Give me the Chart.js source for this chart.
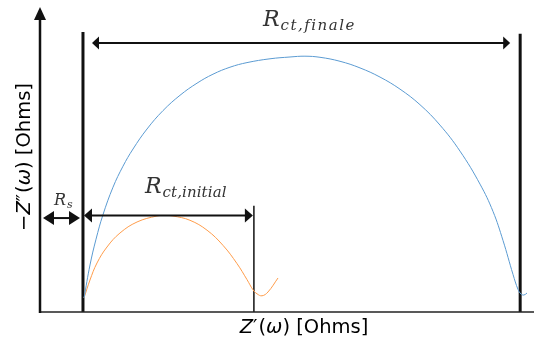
<!DOCTYPE html>
<html>
<head>
<meta charset="utf-8">
<script src="https://cdn.jsdelivr.net/npm/chart.js@4/dist/chart.umd.min.js"></script>
<style>
  html, body { margin: 0; padding: 0; background: #fff; overflow: hidden; }
  #wrap { width: 534px; height: 344px; position: relative; }
</style>
</head>
<body>
<div id="wrap"><canvas id="c" width="534" height="344"></canvas></div>
<script>
// Nyquist sketch of a cell before and after ageing (arbitrary ohm units).
// Final spectrum (large arc)
const finalZre = [8.91, 10.12, 11.34, 12.75, 14.78, 16.80, 18.83, 21.66, 24.90, 28.34, 31.78, 35.02, 38.46, 41.90, 46.56, 50.61, 53.64, 56.68, 60.73, 64.78, 68.83, 72.87, 76.92, 80.97, 85.02, 89.07, 91.70, 93.72, 95.75, 96.76, 97.37, 97.98, 98.58];
const finalZim = [4.59, 15.41, 23.87, 31.90, 40.92, 47.80, 53.44, 60.00, 66.03, 71.05, 75.02, 77.97, 80.26, 81.77, 83.02, 83.61, 83.87, 83.51, 82.20, 80.03, 77.02, 73.08, 67.97, 61.28, 52.75, 41.93, 32.98, 23.48, 12.33, 7.41, 5.90, 5.57, 6.23];
// Initial spectrum (small arc)
const initialZre = [8.91, 10.12, 11.54, 13.56, 16.19, 19.64, 23.68, 25.30, 26.92, 30.36, 33.81, 37.05, 39.88, 41.90, 43.12, 43.93, 44.94, 46.15, 48.18];
const initialZim = [4.59, 10.49, 16.07, 21.31, 25.90, 29.51, 31.48, 31.64, 31.48, 30.07, 26.82, 21.84, 15.87, 10.62, 7.28, 5.97, 5.31, 6.56, 11.15];
// Characteristic resistances read on the real axis
const resistanceLabels = ['R_s', 'R_ct,initial', 'R_ct,finale'];
const R_S = 8.7;
const R_END_INITIAL = 43.3;
const R_END_FINAL = 97.2;

const toPoints = (xs, ys) => xs.map((x, i) => ({ x, y: ys[i] }));
const vline = (x, top) => [{ x, y: 0 }, { x, y: top }];

const INK = '#111';

function arrowHead(ctx, tipX, tipY, dir, len, half) {
  // dir: +1 points right, -1 points left
  ctx.beginPath();
  ctx.moveTo(tipX, tipY);
  ctx.lineTo(tipX - dir * len, tipY - half);
  ctx.lineTo(tipX - dir * len, tipY + half);
  ctx.closePath();
  ctx.fill();
}

function dimArrow(ctx, x1, x2, y, len, half, width) {
  ctx.save();
  ctx.strokeStyle = INK;
  ctx.fillStyle = INK;
  ctx.lineWidth = width;
  ctx.beginPath();
  ctx.moveTo(x1 + len * 0.5, y);
  ctx.lineTo(x2 - len * 0.5, y);
  ctx.stroke();
  arrowHead(ctx, x1, y, -1, len, half);
  arrowHead(ctx, x2, y, 1, len, half);
  ctx.restore();
}

function mathLabel(ctx, base, sub, x, y, size, subSpacing) {
  // italic R with a smaller subscript, left-aligned at x, baseline y
  ctx.save();
  ctx.fillStyle = '#333';
  ctx.textBaseline = 'alphabetic';
  ctx.textAlign = 'left';
  ctx.font = 'italic ' + size + 'px "DejaVu Serif"';
  ctx.fillText(base, x, y);
  const w = ctx.measureText(base).width;
  ctx.font = 'italic ' + Math.round(size * 0.7) + 'px "DejaVu Serif"';
  ctx.letterSpacing = subSpacing + 'px';
  ctx.fillText(sub, x + w + 1, y + size * 0.2);
  ctx.restore();
}

// draw a run of text pieces (some italic) centred on (cx, cy)
function richText(ctx, parts, cx, cy, size, angle) {
  ctx.save();
  ctx.translate(cx, cy);
  ctx.rotate(angle);
  ctx.fillStyle = '#000';
  ctx.textBaseline = 'middle';
  ctx.textAlign = 'left';
  const fontOf = p => (p.i ? 'oblique ' : '') + size + 'px "DejaVu Sans"';
  let total = 0;
  const widths = parts.map(p => {
    ctx.font = fontOf(p);
    const w = ctx.measureText(p.t).width + (p.pad || 0);
    total += w;
    return w;
  });
  let x = -total / 2;
  parts.forEach((p, k) => {
    ctx.font = fontOf(p);
    ctx.fillText(p.t, x, 0);
    x += widths[k];
  });
  ctx.restore();
}

const sketchPlugin = {
  id: 'nyquistSketch',
  afterDatasetsDraw(chart) {
    const { ctx, chartArea, scales } = chart;
    const xs = scales.x, ys = scales.y;
    const x0 = xs.getPixelForValue(0);
    const y0 = ys.getPixelForValue(0);

    ctx.save();
    // real axis
    ctx.strokeStyle = '#222';
    ctx.lineWidth = 1.5;
    ctx.beginPath();
    ctx.moveTo(x0, y0);
    ctx.lineTo(chartArea.right, y0);
    ctx.stroke();
    // imaginary axis with arrow
    ctx.lineWidth = 2.5;
    ctx.strokeStyle = INK;
    ctx.beginPath();
    ctx.moveTo(x0, y0 + 1);
    ctx.lineTo(x0, chartArea.top + 10);
    ctx.stroke();
    ctx.fillStyle = INK;
    ctx.beginPath();
    ctx.moveTo(x0, chartArea.top);
    ctx.lineTo(x0 - 6, chartArea.top + 13);
    ctx.lineTo(x0 + 6, chartArea.top + 13);
    ctx.closePath();
    ctx.fill();
    ctx.restore();

    const pRs = xs.getPixelForValue(R_S);
    const pIni = xs.getPixelForValue(R_END_INITIAL);
    const pFin = xs.getPixelForValue(R_END_FINAL);

    // R_s
    const yRs = ys.getPixelForValue(30.8);
    dimArrow(ctx, x0 + 3, pRs - 3, yRs, 11, 7, 2);
    // R_ct,initial at the height of the small arc's apex
    const yIni = ys.getPixelForValue(Math.max(...initialZim));
    dimArrow(ctx, pRs + 1, pIni - 1, yIni, 8, 7, 2);
    // R_ct,finale
    const yFin = ys.getPixelForValue(88.2);
    dimArrow(ctx, pRs + 9, pFin - 10, yFin, 7, 6.5, 2);

    mathLabel(ctx, 'R', 's', 54, 205, 16, 0);
    mathLabel(ctx, 'R', 'ct,initial', 145, 193, 22, 0.1);
    mathLabel(ctx, 'R', 'ct,finale', 263, 26, 22, 1.5);

    // axis titles
    richText(ctx, [
      { t: 'Z', i: true }, { t: '\u2032', pad: 1 }, { t: '(' }, { t: '\u03C9', i: true }, { t: ')' }, { t: ' [Ohms]' }
    ], 304, 328, 19.5, 0);
    richText(ctx, [
      { t: '\u2212' }, { t: 'Z', i: true }, { t: '\u2033', pad: 1 }, { t: '(' }, { t: '\u03C9', i: true }, { t: ')' }, { t: ' [Ohms]' }
    ], 25, 157, 19.5, -Math.PI / 2);
  }
};

new Chart(document.getElementById('c'), {
  type: 'scatter',
  data: {
    datasets: [
      { label: 'final', data: toPoints(finalZre, finalZim), showLine: true, borderColor: '#5b9bd2', borderWidth: 1, pointRadius: 0, tension: 0.4 },
      { label: 'initial', data: toPoints(initialZre, initialZim), showLine: true, borderColor: '#ff9c4a', borderWidth: 1, pointRadius: 0, tension: 0.4 },
      { label: resistanceLabels[0], data: vline(R_S, 91.8), showLine: true, borderColor: INK, borderWidth: 3, pointRadius: 0 },
      { label: resistanceLabels[1], data: vline(R_END_INITIAL, 34.8), showLine: true, borderColor: INK, borderWidth: 1.5, pointRadius: 0 },
      { label: resistanceLabels[2], data: vline(R_END_FINAL, 91.2), showLine: true, borderColor: INK, borderWidth: 3, pointRadius: 0 }
    ]
  },
  options: {
    responsive: false,
    animation: false,
    devicePixelRatio: 1,
    layout: { padding: { left: 40, right: 0, top: 7, bottom: 32 } },
    plugins: { legend: { display: false }, tooltip: { enabled: false } },
    scales: {
      x: { type: 'linear', min: 0, max: 100, display: false },
      y: { type: 'linear', min: 0, max: 100, display: false }
    }
  },
  plugins: [sketchPlugin]
});
</script>
</body>
</html>
